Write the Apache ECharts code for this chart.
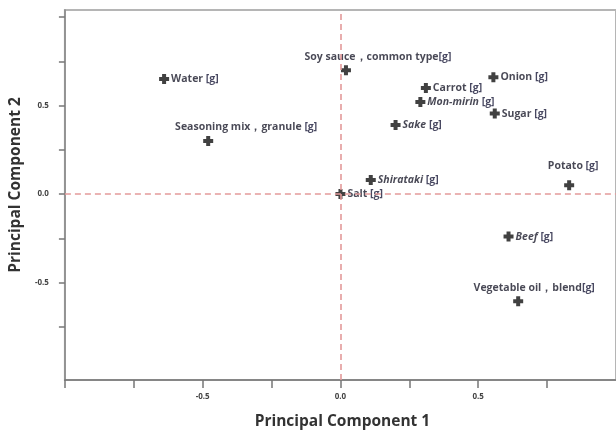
<!DOCTYPE html>
<html>
<head>
<meta charset="utf-8">
<script src="https://cdn.jsdelivr.net/npm/echarts@6/dist/echarts.min.js"></script>
<style>html,body{margin:0;padding:0;background:#fff;}#c{width:616px;height:435px;}</style>
</head>
<body>
<div id="c"></div>
<script>
const names = ['Water', 'Soy sauce，common type', 'Onion', 'Carrot', 'Mon-mirin', 'Sugar', 'Sake',
  'Seasoning mix，granule', 'Shirataki', 'Salt', 'Potato', 'Beef', 'Vegetable oil，blend'];
const pc1 = [-0.64, 0.02, 0.555, 0.31, 0.29, 0.56, 0.20, -0.48, 0.11, 0.0, 0.83, 0.61, 0.645];
const pc2 = [0.65, 0.70, 0.66, 0.60, 0.52, 0.455, 0.39, 0.30, 0.08, 0.0, 0.05, -0.24, -0.605];
const unitSuffix = ['[g]', '[g]', '[g]', '[g]', '[g]', '[g]', '[g]', '[g]', '[g]', '[g]', '[g]', '[g]', '[g]'];
const italicNames = ['Mon-mirin', 'Sake', 'Shirataki', 'Beef'];
const xTicks = [-1.0, -0.75, -0.5, -0.25, 0.0, 0.25, 0.5, 0.75];
const xTickLabels = [-0.5, 0.0, 0.5];
const yTicks = [-0.75, -0.5, -0.25, 0.0, 0.25, 0.5, 0.75, 1.0];
const yTickLabels = [-0.5, 0.0, 0.5];

// label placement (style only)
const labelAbove = {
  'Soy sauce，common type': [32, 0],
  'Seasoning mix，granule': [38, 0],
  'Potato': [4, -6],
  'Vegetable oil，blend': [16, 0]
};
const joinSpace = { 'Soy sauce，common type': '', 'Vegetable oil，blend': '' };

const data = names.map((n, i) => {
  const item = { name: n, value: [pc1[i], pc2[i]] };
  if (labelAbove[n]) {
    item.label = { position: 'top', offset: labelAbove[n], distance: 3 };
  }
  return item;
});

const chart = echarts.init(document.getElementById('c'), null, { renderer: 'canvas' });
const font = '"Open Sans", Lato, sans-serif';
const lblSize = 10.5;
chart.setOption({
  animation: false,
  backgroundColor: '#fff',
  grid: { left: 63, right: 0, top: 10, bottom: 49, show: true, borderColor: '#b5b5b5', borderWidth: 2 },
  xAxis: {
    type: 'value', min: -1.0, max: 1.0,
    name: 'Principal Component 1', nameLocation: 'middle', nameGap: 34,
    nameTextStyle: { fontFamily: font, fontWeight: 'bold', fontSize: 15.5, color: '#333', padding: [0, 0, 0, 4] },
    axisLine: { show: true, onZero: false, lineStyle: { color: '#777', width: 1.5 } },
    axisTick: { show: true, inside: false, length: 8, customValues: xTicks, lineStyle: { color: '#777', width: 1.5 } },
    axisLabel: { customValues: xTickLabels, margin: 13, fontSize: 8, fontWeight: 'bold', fontFamily: font, color: '#444',
      formatter: v => v.toFixed(1) },
    splitLine: { show: false }
  },
  yAxis: {
    type: 'value', min: -1.05, max: 1.04,
    name: 'Principal Component 2', nameLocation: 'middle', nameGap: 38, nameRotate: 90,
    nameTextStyle: { fontFamily: font, fontWeight: 'bold', fontSize: 15.5, color: '#333', padding: [0, 0, 0, 20] },
    axisLine: { show: true, onZero: false, lineStyle: { color: '#888', width: 1.5 } },
    axisTick: { show: true, inside: false, length: 6, customValues: yTicks, lineStyle: { color: '#777', width: 1.5 } },
    axisLabel: { customValues: yTickLabels, margin: 16, fontSize: 8, fontWeight: 'bold', fontFamily: font, color: '#444',
      formatter: v => v.toFixed(1) },
    splitLine: { show: false }
  },
  series: [{
    type: 'scatter',
    symbol: 'path://M3,0h4v3h3v4h-3v3h-4v-3h-3v-4h3z',
    symbolSize: 10,
    itemStyle: { color: '#111' },
    data: data,
    label: {
      show: true, position: 'right', distance: 2,
      fontFamily: font, fontSize: lblSize, fontWeight: 'bold', color: '#1a1a2a',
      formatter: p => {
        const i = p.dataIndex;
        const n = names[i];
        const sep = (n in joinSpace) ? joinSpace[n] : ' ';
        const nm = italicNames.includes(n) ? '{i|' + n + '}' : '{n|' + n + '}';
        return nm + '{n|' + sep + '}{u|' + unitSuffix[i] + '}';
      },
      rich: {
        n: { fontFamily: font, fontSize: lblSize, fontWeight: 'bold', color: '#1a1a2a' },
        i: { fontFamily: font, fontSize: lblSize, fontWeight: 'bold', fontStyle: 'italic', color: '#1a1a2a' },
        u: { fontFamily: font, fontSize: lblSize, fontWeight: 'bold', color: '#1a1a3a' }
      }
    },
    markLine: {
      silent: true, symbol: 'none', label: { show: false },
      lineStyle: { color: '#e39a9a', type: [6, 4], width: 1.6 },
      data: [{ xAxis: 0 }, { yAxis: 0 }]
    },
    z: 3
  }]
});
</script>
</body>
</html>
